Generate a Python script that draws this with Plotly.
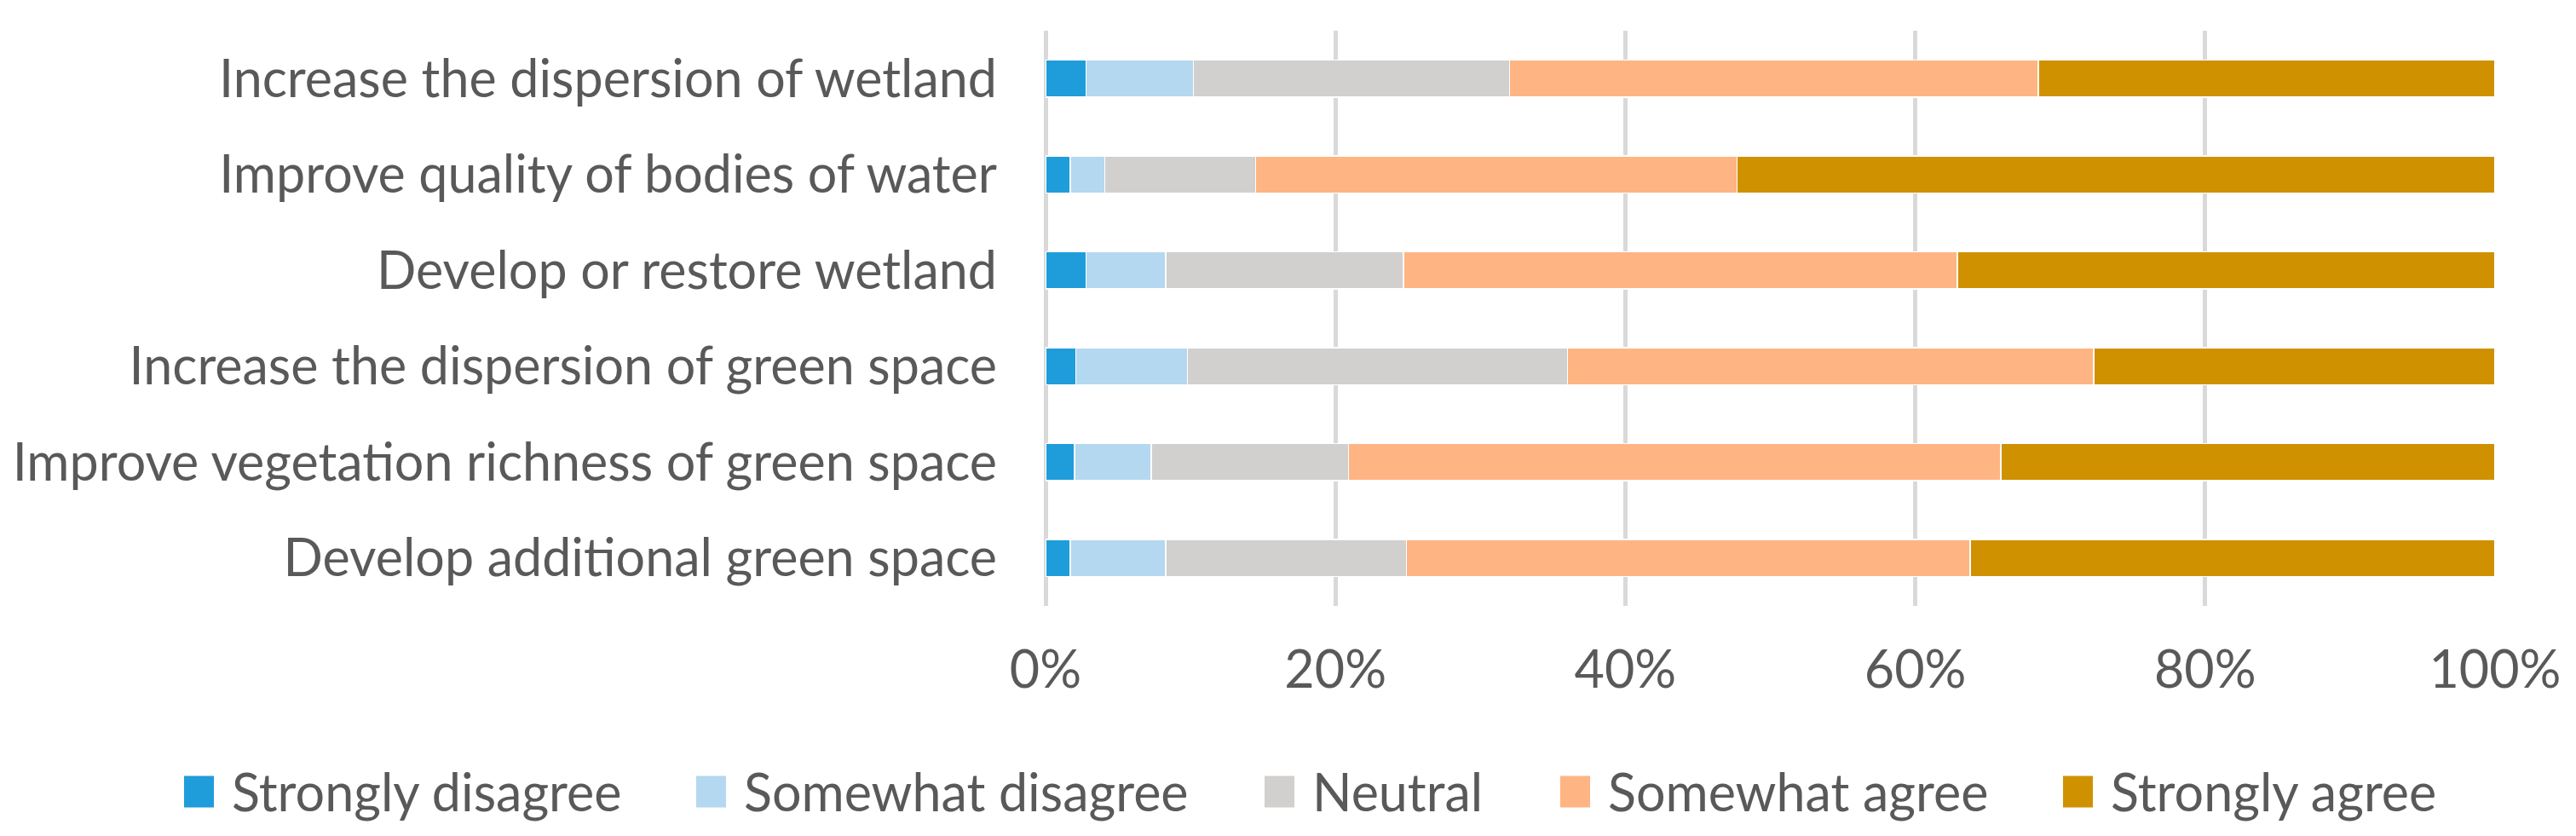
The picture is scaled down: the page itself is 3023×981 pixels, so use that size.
import plotly.graph_objects as go

# ---------------- data ----------------
categories = [
    "Increase the dispersion of wetland",
    "Improve quality of bodies of water",
    "Develop or restore wetland",
    "Increase the dispersion of green space",
    "Improve vegetation richness of green space",
    "Develop additional green space",
]
series_names = ["Strongly disagree", "Somewhat disagree", "Neutral",
                "Somewhat agree", "Strongly agree"]
strongly_disagree = [2.8, 1.7, 2.8, 2.1, 2.0, 1.7]
somewhat_disagree = [7.4, 2.4, 5.5, 7.7, 5.3, 6.6]
neutral = [21.8, 10.4, 16.4, 26.2, 13.6, 16.6]
somewhat_agree = [36.5, 33.2, 38.2, 36.3, 45.0, 38.9]
strongly_agree = [31.5, 52.3, 37.1, 27.7, 34.1, 36.2]
x_tick_values = [0, 20, 40, 60, 80, 100]
x_tick_labels = ["0%", "20%", "40%", "60%", "80%", "100%"]

series_values = [strongly_disagree, somewhat_disagree, neutral,
                 somewhat_agree, strongly_agree]
colors = ["#1E9DDA", "#B4D8F0", "#D1D0CE", "#FFB483", "#CF9100"]

# ---------------- layout constants (pixels) ----------------
W, H = 3023, 981
PL, PR, PT, PB = 1227, 2928, 36, 711   # plot area edges
FONT = "Lato"
FSIZE = 61
TXT = "#595959"

def px_to_paper_x(px):
    return (px - PL) / (PR - PL)

def px_to_paper_y(py):
    return (PB - py) / (PB - PT)

fig = go.Figure()
for name, vals, col in zip(series_names, series_values, colors):
    fig.add_trace(go.Bar(
        y=categories, x=vals, name=name, orientation="h",
        marker=dict(color=col, line=dict(color="white", width=1.5)),
        showlegend=False,
    ))

# manual legend (large square swatches like the original)
legend_text_start = [270, 871, 1538, 1885, 2475]
sw_w, sw_h, sw_gap = 35, 37, 19
legend_cy = 928
shapes = []
annotations = []
for name, col, tx in zip(series_names, colors, legend_text_start):
    x0 = tx - sw_gap - sw_w
    shapes.append(dict(
        type="rect", xref="paper", yref="paper",
        x0=px_to_paper_x(x0), x1=px_to_paper_x(x0 + sw_w),
        y0=px_to_paper_y(legend_cy + sw_h / 2 + 1), y1=px_to_paper_y(legend_cy - sw_h / 2 + 1),
        fillcolor=col, line=dict(width=0), layer="above",
    ))
    annotations.append(dict(
        text=name, xref="paper", yref="paper",
        x=px_to_paper_x(tx), y=px_to_paper_y(legend_cy),
        xanchor="left", yanchor="middle", showarrow=False,
        font=dict(family=FONT, size=FSIZE, color=TXT),
    ))

fig.update_layout(
    width=W, height=H, autosize=False,
    margin=dict(l=PL, r=W - PR, t=PT, b=H - PB, pad=0),
    barmode="stack", bargap=0.615,
    plot_bgcolor="white", paper_bgcolor="white",
    font=dict(family=FONT, size=FSIZE, color=TXT),
    shapes=shapes, annotations=annotations,
    xaxis=dict(
        range=[0, 100], tickvals=x_tick_values, ticktext=x_tick_labels,
        showgrid=True, gridcolor="#D9D9D9", gridwidth=5,
        zeroline=True, zerolinecolor="#D9D9D9", zerolinewidth=5,
        showline=False, ticks="", ticklabelstandoff=34,
        tickfont=dict(family=FONT, size=FSIZE, color=TXT),
        fixedrange=True,
    ),
    yaxis=dict(
        autorange="reversed", showgrid=False, zeroline=False, showline=False,
        ticks="", ticklabelstandoff=56,
        tickfont=dict(family=FONT, size=FSIZE, color=TXT),
        fixedrange=True,
    ),
)

fig.write_html("out.html", include_plotlyjs=True, full_html=True,
               post_script="document.body.style.margin='0';",
               config={"displayModeBar": False})
